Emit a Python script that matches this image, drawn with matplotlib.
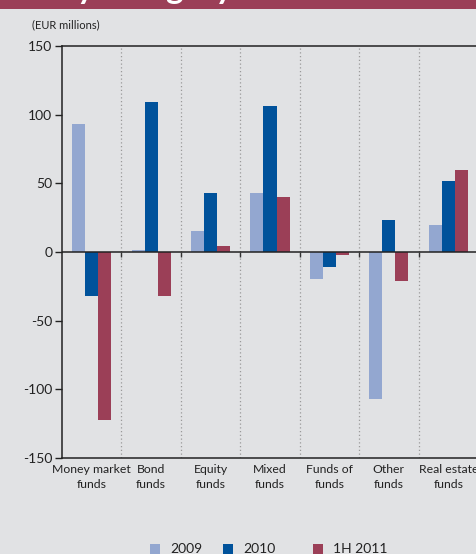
import numpy as np
import matplotlib.pyplot as plt
from matplotlib.patches import Rectangle

plt.rcParams['font.family'] = ['Lato', 'DejaVu Sans']

categories = ['Money market\nfunds', 'Bond\nfunds', 'Equity\nfunds', 'Mixed\nfunds',
              'Funds of\nfunds', 'Other\nfunds', 'Real estate\nfunds']
series = ['2009', '2010', '1H 2011']
v2009 = [93, 1.5, 15, 43, -20, -107, 20]
v2010 = [-32, 109, 43, 106, -11, 23, 52]
v1h2011 = [-122, -32, 4.5, 40, -2, -21, 60]
yticks = [-150, -100, -50, 0, 50, 100, 150]

colors = ['#93a7d0', '#00529b', '#9b3f57']
bg = '#e1e2e4'
W, H = 476, 554

fig = plt.figure(figsize=(W / 100, H / 100), dpi=100, facecolor=bg)
# header band, title text mostly above the crop (only descenders show)
fig.patches.append(Rectangle((0, 1 - 9 / H), 1, 9 / H, transform=fig.transFigure,
                             facecolor='#9b3f57', edgecolor='none'))
fig.text(-0.2, 1 + 1 / H, 'Net flows by category', color='white', fontsize=24,
         fontweight='bold', va='baseline', ha='left')

ax = fig.add_axes([62 / W, 1 - 458 / H, 416 / W, 412 / H])
ax.set_facecolor(bg)

x = np.arange(len(categories))
w = 0.22
for i, (vals, c) in enumerate(zip([v2009, v2010, v1h2011], colors)):
    ax.bar(x + (i - 1) * w, vals, width=w, color=c, zorder=3, label=series[i])

seps = x[:-1] + 0.5
for s in seps:
    ax.axvline(s, color='#9a9a9a', linestyle=(0, (1, 2)), linewidth=0.9, zorder=1)
ax.axhline(0, color='#222222', linewidth=1.1, zorder=4)
ax.vlines(seps, -4, 0, color='#333333', linewidth=1.0, zorder=4)

ax.set_xlim(-0.5, 6.5)
ax.set_ylim(-150, 150)
ax.set_yticks(yticks)
ax.set_yticklabels([str(t) for t in yticks], fontsize=10, color='#222222')
ax.set_xticks(x)
ax.set_xticklabels(categories, fontsize=8.8, color='#222222', linespacing=1.5)
ax.tick_params(axis='x', length=0, pad=4)
ax.tick_params(axis='y', length=5, width=1, color='#222222', pad=2)
for side in ['left', 'top', 'bottom']:
    ax.spines[side].set_color('#222222')
    ax.spines[side].set_linewidth(1.1)
ax.spines['right'].set_visible(False)

fig.text(32 / W, 1 - 25 / H, '(EUR millions)', fontsize=8, color='#222222',
         va='center', ha='left')

# legend, laid out by hand
leg_x = [150, 223, 313]
for lx, c, lab in zip(leg_x, colors, series):
    fig.patches.append(Rectangle((lx / W, 1 - 555 / H), 10 / W, 11 / H,
                                 transform=fig.transFigure, facecolor=c, edgecolor='none'))
    fig.text((lx + 20) / W, 1 - 549 / H, lab, fontsize=10, color='#222222',
             va='center', ha='left')

fig.savefig('out.png', dpi=100, facecolor=bg)
